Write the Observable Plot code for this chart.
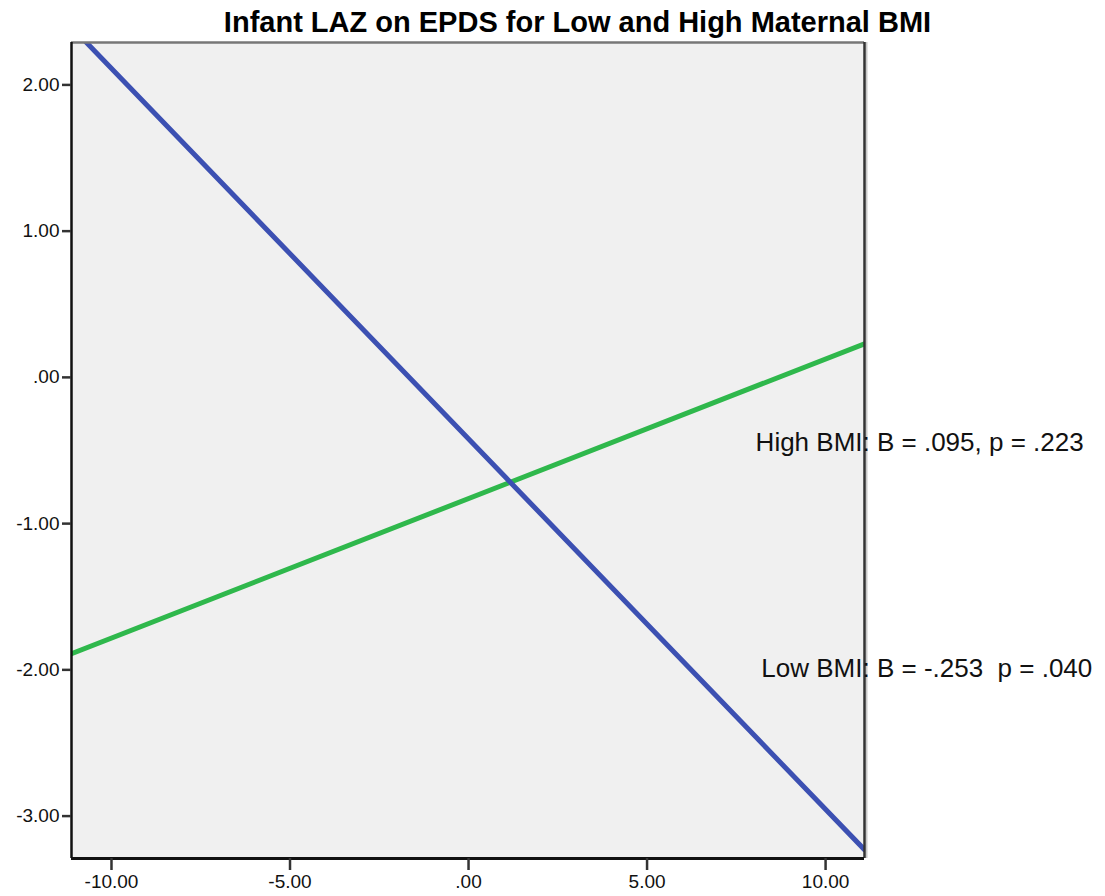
<!DOCTYPE html>
<html>
<head>
<meta charset="utf-8">
<script src="https://cdn.jsdelivr.net/npm/d3@7"></script>
<script src="https://cdn.jsdelivr.net/npm/@observablehq/plot@0.6"></script>
<style>
  body { margin: 0; background: #fff; font-family: "Liberation Sans", Arial, sans-serif; }
  #wrap { position: relative; width: 1105px; height: 896px; }
  #title { position: absolute; top: 8px; left: 0; width: 1105px; padding-left: 50px; box-sizing: border-box;
           text-align: center; font: bold 29px/1 "Liberation Sans", Arial, sans-serif; color: #000; }
  #chart { position: absolute; top: 40px; left: 0; }
</style>
</head>
<body>
<div id="wrap">
  <div id="title">Infant LAZ on EPDS for Low and High Maternal BMI</div>
  <div id="chart"></div>
</div>
<script>
// Data
const epdsRange = [-11.12, 11.09];          // x extent of fitted lines
const highBMIValues = [-1.89, 0.23];        // green line, High BMI
const lowBMIValues = [2.396, -3.23];        // blue line, Low BMI
const xTicks = [-10, -5, 0, 5, 10];
const yTicks = [2, 1, 0, -1, -2, -3];
const xDomain = [-11.12, 11.09];
const yDomain = [-3.29, 2.29];
const annotations = [
  {x: 8.04, y: -0.445, text: "High BMI: B = .095, p = .223"},
  {x: 8.2, y: -1.99, text: "Low BMI: B = -.253  p = .040"}
];

const highLine = epdsRange.map((x, i) => ({x, y: highBMIValues[i]}));
const lowLine = epdsRange.map((x, i) => ({x, y: lowBMIValues[i]}));

const locale = d3.formatLocale({decimal: ".", thousands: ",", grouping: [3], currency: ["", ""], minus: "-"});
const fmt = v => locale.format(".2f")(v).replace(/^(-?)0\./, "$1.");

const chart = Plot.plot({
  width: 1105,
  height: 856,
  marginLeft: 71,
  marginRight: 241,
  marginTop: 2,
  marginBottom: 38,
  style: {fontFamily: "'Liberation Sans', Arial, sans-serif", background: "transparent", overflow: "visible"},
  x: {domain: xDomain},
  y: {domain: yDomain},
  marks: [
    Plot.frame({fill: "#f0f0f0", stroke: null}),
    Plot.line(highLine, {x: "x", y: "y", stroke: "#2fb84c", strokeWidth: 5, clip: true}),
    Plot.line(lowLine, {x: "x", y: "y", stroke: "#3c50b2", strokeWidth: 5, clip: true}),
    Plot.ruleY([yDomain[1]], {stroke: "#777", strokeWidth: 2.5}),
    Plot.ruleX([xDomain[1]], {stroke: "#c8c8c8", strokeWidth: 2, dx: 2}),
    Plot.ruleX([xDomain[1]], {stroke: "#333", strokeWidth: 2.5}),
    Plot.ruleX([xDomain[0]], {stroke: "#111", strokeWidth: 2.5}),
    Plot.ruleY([yDomain[0]], {stroke: "#111", strokeWidth: 3}),
    Plot.axisX({ticks: xTicks, tickFormat: fmt, tickSize: 12, tickPadding: 4, strokeWidth: 2.5, stroke: "#333",
                fontSize: 19, fill: "#111", label: null}),
    Plot.axisY({ticks: yTicks, tickFormat: fmt, tickSize: 9, tickPadding: 3, strokeWidth: 2.5, stroke: "#333",
                fontSize: 19, fill: "#111", label: null}),
    Plot.text(annotations, {x: "x", y: "y", text: "text", textAnchor: "start", fontSize: 26, fill: "#111", clip: false})
  ]
});
document.getElementById("chart").appendChild(chart);
</script>
</body>
</html>
